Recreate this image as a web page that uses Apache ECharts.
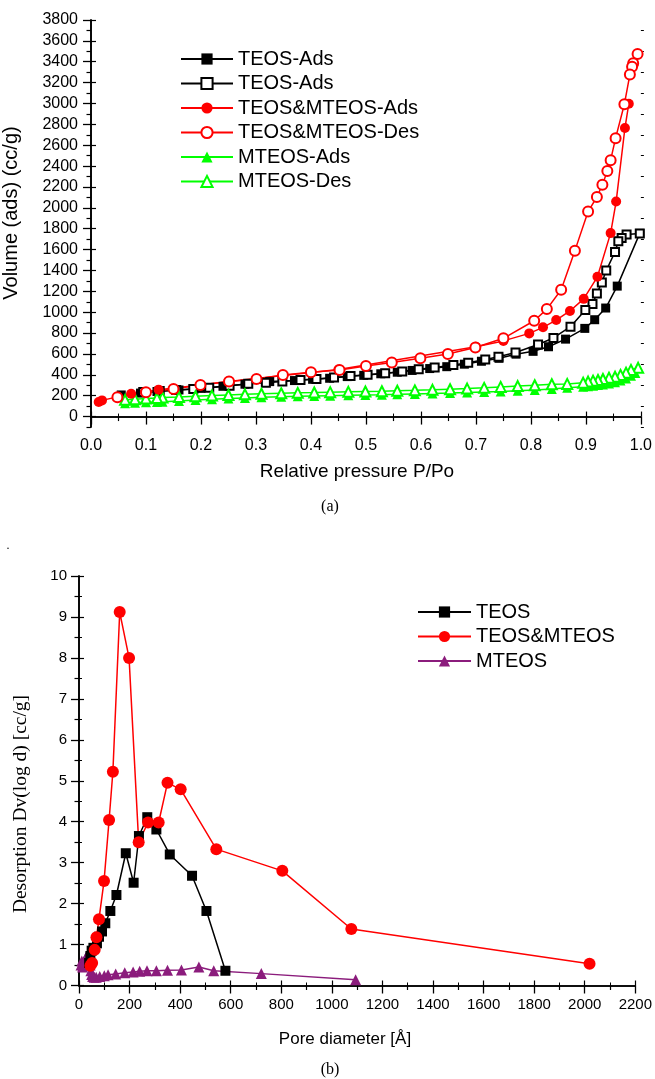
<!DOCTYPE html>
<html>
<head>
<meta charset="utf-8">
<script src="https://cdn.jsdelivr.net/npm/echarts@6/dist/echarts.min.js"></script>
<style>
html,body{margin:0;padding:0;background:#fff;}
#chart{width:655px;height:1079px;}
</style>
</head>
<body>
<div id="chart"></div>
<script>
// ---- (a) N2 sorption isotherms: [relative pressure, volume adsorbed (cc/g)] ----
const teosAds = [[0.055,207],[0.09,225],[0.12,240],[0.16,255],[0.20,270],[0.24,290],[0.28,310],[0.325,335],[0.37,345],[0.403,357],[0.434,367],[0.466,383],[0.496,395],[0.527,410],[0.557,425],[0.584,442],[0.616,460],[0.647,478],[0.679,502],[0.710,530],[0.742,558],[0.773,598],[0.804,625],[0.832,669],[0.863,742],[0.898,845],[0.916,928],[0.936,1040],[0.957,1250],[0.998,1755]];
const teosDes = [[0.998,1755],[0.974,1745],[0.965,1710],[0.959,1680],[0.953,1578],[0.937,1400],[0.929,1285],[0.920,1180],[0.912,1078],[0.899,1020],[0.872,861],[0.841,753],[0.813,690],[0.772,614],[0.741,574],[0.717,547],[0.686,515],[0.659,494],[0.625,470],[0.596,453],[0.566,433],[0.535,416],[0.503,400],[0.472,389],[0.442,375],[0.410,361],[0.381,351],[0.348,335],[0.318,325],[0.286,315],[0.252,296],[0.215,277],[0.186,265],[0.155,255],[0.125,245],[0.095,235]];
const mixAds = [[0.014,140],[0.020,155],[0.073,218],[0.098,236],[0.123,258],[0.200,303],[0.250,335],[0.450,450],[0.700,668],[0.750,725],[0.797,797],[0.822,855],[0.846,925],[0.871,1012],[0.896,1128],[0.921,1339],[0.945,1758],[0.955,2060],[0.971,2765],[0.978,2997]];
const mixDes = [[0.994,3475],[0.986,3385],[0.984,3353],[0.980,3277],[0.970,2993],[0.954,2668],[0.945,2457],[0.939,2352],[0.930,2222],[0.920,2104],[0.904,1964],[0.880,1590],[0.855,1215],[0.829,1030],[0.806,918],[0.750,750],[0.699,662],[0.649,600],[0.599,558],[0.547,518],[0.500,485],[0.452,447],[0.400,424],[0.349,399],[0.301,361],[0.251,335],[0.199,303],[0.150,265],[0.100,233],[0.048,185]];
const mteosAds = [[0.062,128],[0.08,132],[0.10,136],[0.12,140],[0.13,143],[0.16,150],[0.19,158],[0.22,165],[0.25,172],[0.28,178],[0.31,184],[0.346,190],[0.376,194],[0.406,197],[0.435,200],[0.468,204],[0.499,207],[0.529,210],[0.557,213],[0.589,217],[0.621,221],[0.653,225],[0.684,230],[0.715,235],[0.745,240],[0.776,247],[0.807,255],[0.838,265],[0.866,275],[0.895,285],[0.904,290],[0.913,296],[0.922,302],[0.931,308],[0.942,316],[0.953,328],[0.963,345],[0.973,365],[0.982,390],[0.990,418]];
const mteosDes = [[0.995,467],[0.982,447],[0.973,421],[0.963,399],[0.953,382],[0.942,373],[0.931,360],[0.922,351],[0.913,344],[0.904,335],[0.895,325],[0.866,313],[0.838,310],[0.807,300],[0.776,292],[0.745,284],[0.715,275],[0.684,268],[0.653,262],[0.621,256],[0.589,251],[0.557,247],[0.529,243],[0.499,240],[0.468,237],[0.435,234],[0.406,230],[0.376,227],[0.346,223],[0.31,218],[0.28,213],[0.25,207],[0.22,201],[0.19,195],[0.16,188],[0.13,182],[0.12,178],[0.10,172],[0.08,166],[0.062,160]];
const isothermNames = ['TEOS-Ads','TEOS-Des','TEOS&MTEOS-Ads','TEOS&MTEOS-Des','MTEOS-Ads','MTEOS-Des'];
// printed legend text for each isotherm series
const isothermLegendText = {'TEOS-Ads':'TEOS-Ads','TEOS-Des':'TEOS-Ads','TEOS&MTEOS-Ads':'TEOS&MTEOS-Ads','TEOS&MTEOS-Des':'TEOS&MTEOS-Des','MTEOS-Ads':'MTEOS-Ads','MTEOS-Des':'MTEOS-Des'};
const volumeTicks = [0,200,400,600,800,1000,1200,1400,1600,1800,2000,2200,2400,2600,2800,3000,3200,3400,3600,3800];
const volumeMinorTicks = [-100,100,300,500,700,900,1100,1300,1500,1700,1900,2100,2300,2500,2700,2900,3100,3300,3500,3700];

// ---- (b) BJH desorption pore size distribution: [pore diameter (Å), dV/dlog(D)] ----
const poreTeos = [[40,0.55],[45,0.72],[50,0.85],[57,0.92],[71,1.03],[79,1.19],[91,1.32],[104,1.52],[124,1.82],[148,2.21],[185,3.23],[216,2.51],[237,3.65],[270,4.11],[306,3.81],[359,3.20],[447,2.68],[504,1.82],[579,0.36]];
const poreMix = [[45,0.48],[52,0.55],[62,0.87],[69,1.18],[79,1.62],[99,2.55],[119,4.04],[134,5.22],[161,9.12],[198,8.0],[236,3.50],[273,3.98],[315,3.98],[350,4.95],[402,4.79],[543,3.33],[804,2.80],[1077,1.38],[2019,0.53]];
const poreMteos = [[8,0.5],[11,0.6],[14,0.45],[17,0.55],[20,0.5],[23,0.62],[26,0.66],[29,0.7],[32,0.72],[35,0.76],[38,0.78],[41,0.66],[44,0.5],[47,0.36],[50,0.27],[54,0.22],[60,0.2],[68,0.2],[82,0.22],[100,0.24],[115,0.26],[145,0.28],[181,0.31],[214,0.33],[240,0.35],[269,0.36],[306,0.36],[350,0.37],[405,0.38],[474,0.45],[533,0.36],[721,0.29],[1094,0.14]];
const poreNames = ['TEOS','TEOS&MTEOS','MTEOS'];

const BLACK = '#000000', RED = '#ff0000', GREEN = '#00ff00', PURPLE = '#8b1c7c';
const SANS = 'Liberation Sans, Arial, sans-serif';
const SERIF = 'Liberation Serif, Times New Roman, serif';

function lineSeries(name, data, color, symbol, size, axisIdx, empty) {
  return {
    type: 'line', name: name, data: data,
    xAxisIndex: axisIdx, yAxisIndex: axisIdx,
    symbol: symbol, symbolSize: size, showAllSymbol: true,
    lineStyle: { color: color, width: 1.5 },
    itemStyle: empty ? { color: color, borderColor: color, borderWidth: 1.6 }
                     : { color: color, borderColor: color, borderWidth: 0 },
    emphasis: { disabled: true }, animation: false, clip: false
  };
}

const axisLineStyle = { show: true, lineStyle: { color: '#000', width: 1.6 } };
const plain = v => String(v);
const labelStyle = (size) => ({ color: '#000', fontFamily: SANS, fontSize: size, formatter: plain });

const chart = echarts.init(document.getElementById('chart'), null, { renderer: 'canvas' });

const option = {
  backgroundColor: '#fff',
  animation: false,
  grid: [
    { left: 91, top: 20, width: 552, height: 407, containLabel: false },
    { left: 79, top: 576, width: 557, height: 409.5, containLabel: false }
  ],
  xAxis: [
    // (a) bottom
    { type: 'value', gridIndex: 0, min: 0, max: 1, interval: 0.1, position: 'bottom',
      axisLine: axisLineStyle, splitLine: { show: false },
      axisTick: { show: true, inside: false, length: 8, lineStyle: { width: 1.3, color: '#000' } },
      minorTick: { show: true, splitNumber: 2, length: 4.5, lineStyle: { width: 1.2, color: '#000' } },
      axisLabel: Object.assign(labelStyle(16), { margin: 11, formatter: v => v.toFixed(1) }) },
    // (b) bottom
    { type: 'value', gridIndex: 1, min: 0, max: 2200, interval: 200, position: 'bottom',
      axisLine: axisLineStyle, splitLine: { show: false },
      axisTick: { show: true, inside: false, length: 8, lineStyle: { width: 1.3, color: '#000' } },
      minorTick: { show: true, splitNumber: 2, length: 4.5, lineStyle: { width: 1.2, color: '#000' } },
      axisLabel: Object.assign(labelStyle(15), { margin: 12 }) },
    // (a) top frame
    { type: 'value', gridIndex: 0, min: 0, max: 1, interval: 0.1, position: 'top',
      axisLine: axisLineStyle, splitLine: { show: false }, axisLabel: { show: false },
      axisTick: { show: true, length: 5, lineStyle: { width: 1.2, color: '#000' } },
      minorTick: { show: true, splitNumber: 2, length: 3, lineStyle: { width: 1, color: '#000' } } },
    // (b) top frame
    { type: 'value', gridIndex: 1, min: 0, max: 2200, interval: 200, position: 'top',
      axisLine: axisLineStyle, splitLine: { show: false }, axisLabel: { show: false },
      axisTick: { show: true, length: 5, lineStyle: { width: 1.2, color: '#000' } },
      minorTick: { show: true, splitNumber: 2, length: 3, lineStyle: { width: 1, color: '#000' } } }
  ],
  yAxis: [
    // (a) left
    { type: 'value', gridIndex: 0, min: -100, max: 3800, position: 'left',
      axisLine: axisLineStyle, splitLine: { show: false },
      axisTick: { show: true, length: 8, customValues: volumeTicks, lineStyle: { width: 1.3, color: '#000' } },
      axisLabel: Object.assign(labelStyle(16), { margin: 13, customValues: volumeTicks }) },
    // (b) left
    { type: 'value', gridIndex: 1, min: 0, max: 10, interval: 1, position: 'left',
      axisLine: axisLineStyle, splitLine: { show: false },
      axisTick: { show: true, length: 8, lineStyle: { width: 1.3, color: '#000' } },
      minorTick: { show: true, splitNumber: 2, length: 4.5, lineStyle: { width: 1.2, color: '#000' } },
      axisLabel: Object.assign(labelStyle(15), { margin: 12 }) },
    // (a) right frame
    { type: 'value', gridIndex: 0, min: -100, max: 3800, position: 'right',
      axisLine: axisLineStyle, splitLine: { show: false }, axisLabel: { show: false },
      axisTick: { show: true, length: 5, customValues: volumeTicks, lineStyle: { width: 1.2, color: '#000' } } },
    // (b) right frame
    { type: 'value', gridIndex: 1, min: 0, max: 10, interval: 1, position: 'right',
      axisLine: axisLineStyle, splitLine: { show: false }, axisLabel: { show: false },
      axisTick: { show: true, length: 5, lineStyle: { width: 1.2, color: '#000' } },
      minorTick: { show: true, splitNumber: 2, length: 3, lineStyle: { width: 1, color: '#000' } } },
    // (a) minor ticks, left and right
    { type: 'value', gridIndex: 0, min: -100, max: 3800, position: 'left',
      axisLine: { show: false }, splitLine: { show: false }, axisLabel: { show: false },
      axisTick: { show: true, length: 4.5, customValues: volumeMinorTicks, lineStyle: { width: 1.2, color: '#000' } } },
    { type: 'value', gridIndex: 0, min: -100, max: 3800, position: 'right',
      axisLine: { show: false }, splitLine: { show: false }, axisLabel: { show: false },
      axisTick: { show: true, length: 3, customValues: volumeMinorTicks, lineStyle: { width: 1, color: '#000' } } }
  ],
  legend: [
    { orient: 'vertical', left: 180, top: 49, padding: 0, itemWidth: 52, itemHeight: 14, itemGap: 4.5,
      data: isothermNames, selectedMode: false,
      formatter: n => isothermLegendText[n],
      textStyle: { color: '#000', fontFamily: SANS, fontSize: 20 } },
    { orient: 'vertical', left: 417, top: 602, padding: 0, itemWidth: 53, itemHeight: 14, itemGap: 4.5,
      data: poreNames, selectedMode: false,
      textStyle: { color: '#000', fontFamily: SANS, fontSize: 20 } }
  ],
  series: [
    lineSeries(isothermNames[0], teosAds, BLACK, 'rect', 9, 0, false),
    lineSeries(isothermNames[1], teosDes, BLACK, 'emptyRect', 8, 0, true),
    lineSeries(isothermNames[4], mteosAds, GREEN, 'triangle', 10, 0, false),
    lineSeries(isothermNames[5], mteosDes, GREEN, 'emptyTriangle', 10, 0, true),
    lineSeries(isothermNames[2], mixAds, RED, 'circle', 10, 0, false),
    lineSeries(isothermNames[3], mixDes, RED, 'emptyCircle', 10, 0, true),
    lineSeries(poreNames[2], poreMteos, PURPLE, 'triangle', 11, 1, false),
    lineSeries(poreNames[0], poreTeos, BLACK, 'rect', 10, 1, false),
    lineSeries(poreNames[1], poreMix, RED, 'circle', 12, 1, false)
  ],
  graphic: [
    { type: 'text', x: 11, y: 213, rotation: Math.PI / 2, origin: [0, 0],
      style: { text: 'Volume (ads) (cc/g)', fontFamily: SANS, fontSize: 20, fill: '#000',
               align: 'center', verticalAlign: 'middle' } },
    { type: 'text', x: 357, y: 472,
      style: { text: 'Relative pressure P/Po', fontFamily: SANS, fontSize: 19, fill: '#000',
               align: 'center', verticalAlign: 'middle' } },
    { type: 'text', x: 330, y: 507,
      style: { text: '(a)', fontFamily: SERIF, fontSize: 16, fill: '#000',
               align: 'center', verticalAlign: 'middle' } },
    { type: 'text', x: 8, y: 546,
      style: { text: '.', fontFamily: SERIF, fontSize: 12, fill: '#000',
               align: 'center', verticalAlign: 'middle' } },
    { type: 'text', x: 21, y: 804, rotation: Math.PI / 2, origin: [0, 0],
      style: { text: 'Desorption Dv(log d) [cc/g]', fontFamily: SERIF, fontSize: 19.5, fill: '#000',
               align: 'center', verticalAlign: 'middle' } },
    { type: 'text', x: 345, y: 1039,
      style: { text: 'Pore diameter [Å]', fontFamily: SANS, fontSize: 17, fill: '#000',
               align: 'center', verticalAlign: 'middle' } },
    { type: 'text', x: 330, y: 1070,
      style: { text: '(b)', fontFamily: SERIF, fontSize: 16, fill: '#000',
               align: 'center', verticalAlign: 'middle' } }
  ]
};
chart.setOption(option);
</script>
</body>
</html>
